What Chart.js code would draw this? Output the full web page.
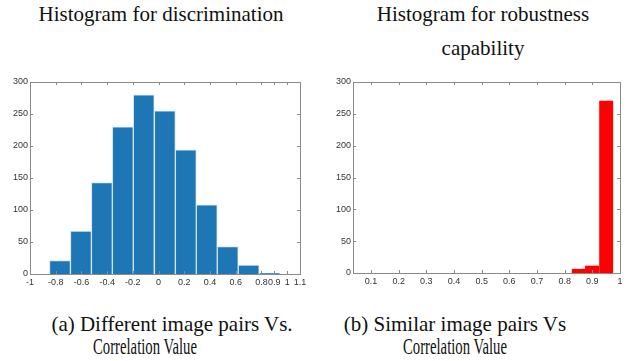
<!DOCTYPE html>
<html>
<head>
<meta charset="utf-8">
<script src="https://cdn.jsdelivr.net/npm/chart.js@4.4.1/dist/chart.umd.min.js"></script>
<style>
  body { margin: 0; background: #fff; }
  #page { position: relative; width: 633px; height: 361px; overflow: hidden;
          font-family: "Liberation Serif", "Times New Roman", serif; color: #111; }
  .txt { position: absolute; white-space: nowrap; font-size: 21px; line-height: 1; }
  .narrow { font-size: 23px; }
  #discWrap { position: absolute; left: 0; top: 70px; width: 316px; height: 230px; }
  #robWrap { position: absolute; left: 320px; top: 70px; width: 313px; height: 230px; }
</style>
</head>
<body>
<div id="page">
  <div class="txt" style="left:161px; top:4px; transform:translateX(-50%)">Histogram for discrimination</div>
  <div class="txt" style="left:483px; top:4px; transform:translateX(-50%)">Histogram for robustness</div>
  <div class="txt" style="left:483px; top:38px; transform:translateX(-50%)">capability</div>

  <div id="discWrap"><canvas id="discChart"></canvas></div>
  <div id="robWrap"><canvas id="robChart"></canvas></div>

  <div class="txt" style="left:172px; top:314px; transform:translateX(-50%)">(a) Different image pairs Vs.</div>
  <div class="txt narrow" style="left:145px; top:335px; transform:translateX(-50%) scaleX(0.64)">Correlation Value</div>
  <div class="txt" style="left:455px; top:314px; transform:translateX(-50%)">(b) Similar image pairs Vs</div>
  <div class="txt narrow" style="left:455px; top:335px; transform:translateX(-50%) scaleX(0.64)">Correlation Value</div>
</div>

<script>
// left histogram: different image pairs (bin centres + counts)
const discCenters = [-0.767, -0.604, -0.441, -0.278, -0.115, 0.049, 0.212, 0.375, 0.538, 0.701, 0.864];
const discCounts  = [21, 67, 143, 230, 280, 255, 194, 108, 43, 14, 1];
const discTicks   = [-1, -0.8, -0.6, -0.4, -0.2, 0, 0.2, 0.4, 0.6, 0.8, 0.9, 1, 1.1];

// right histogram: similar image pairs
const robCenters = [0.851, 0.899, 0.950];
const robCounts  = [6, 11, 270];
const robTicks   = [0.1, 0.2, 0.3, 0.4, 0.5, 0.6, 0.7, 0.8, 0.9, 1];

const countTicks = [0, 50, 100, 150, 200, 250, 300];

// matlab style box with inward tick marks
const boxTicks = {
  id: 'boxTicks',
  afterDraw(chart) {
    const { ctx, chartArea: a, scales: { x, y } } = chart;
    ctx.save();
    ctx.strokeStyle = '#8a8a8a';
    ctx.lineWidth = 1;
    ctx.strokeRect(Math.round(a.left) + 0.5, Math.round(a.top) + 0.5,
                   Math.round(a.width), Math.round(a.height));
    ctx.beginPath();
    x.ticks.forEach(t => {
      const px = Math.round(x.getPixelForValue(t.value)) + 0.5;
      ctx.moveTo(px, a.bottom); ctx.lineTo(px, a.bottom - 3);
      ctx.moveTo(px, a.top); ctx.lineTo(px, a.top + 3);
    });
    y.ticks.forEach(t => {
      const py = Math.round(y.getPixelForValue(t.value)) + 0.5;
      ctx.moveTo(a.left, py); ctx.lineTo(a.left + 3, py);
      ctx.moveTo(a.right, py); ctx.lineTo(a.right - 3, py);
    });
    ctx.stroke();
    ctx.restore();
  }
};

function histOptions(xmin, xmax, xticks, yWidth, xHeight, padRight) {
  return {
    responsive: true,
    maintainAspectRatio: false,
    animation: false,
    layout: { padding: { top: 12, right: padRight, left: 0, bottom: 0 } },
    plugins: { legend: { display: false }, tooltip: { enabled: false } },
    scales: {
      // hidden axis the bars sit on, no ticks so bar width = bin spacing
      bins: {
        type: 'linear',
        display: false,
        min: xmin,
        max: xmax,
        offset: false,
        afterBuildTicks: s => { s.ticks = []; }
      },
      x: {
        type: 'linear',
        min: xmin,
        max: xmax,
        offset: false,
        grid: { display: false, drawTicks: false },
        border: { display: false },
        afterBuildTicks: s => { s.ticks = xticks.map(v => ({ value: v })); },
        afterFit: s => { s.height = xHeight; },
        ticks: {
          autoSkip: false,
          maxRotation: 0,
          padding: 3,
          color: '#333',
          font: { family: 'Liberation Sans', size: 9 },
          callback: v => String(v)
        }
      },
      y: {
        min: 0,
        max: 300,
        grid: { display: false, drawTicks: false },
        border: { display: false },
        afterBuildTicks: s => { s.ticks = countTicks.map(v => ({ value: v })); },
        afterFit: s => { s.width = yWidth; },
        ticks: {
          padding: 2,
          color: '#333',
          font: { family: 'Liberation Sans', size: 9 }
        }
      }
    }
  };
}

new Chart(document.getElementById('discChart'), {
  type: 'bar',
  data: {
    datasets: [{
      xAxisID: 'bins',
      data: discCenters.map((c, i) => ({ x: c, y: discCounts[i] })),
      backgroundColor: '#1f76b4',
      borderColor: '#d4e6f5',
      borderWidth: 1,
      barPercentage: 1,
      categoryPercentage: 1
    }]
  },
  options: histOptions(-1, 1.1, discTicks, 30, 26, 16),
  plugins: [boxTicks]
});

new Chart(document.getElementById('robChart'), {
  type: 'bar',
  data: {
    datasets: [{
      xAxisID: 'bins',
      data: robCenters.map((c, i) => ({ x: c, y: robCounts[i] })),
      backgroundColor: '#ff0000',
      borderWidth: 0,
      barPercentage: 1,
      categoryPercentage: 1
    }]
  },
  options: histOptions(0.035, 1.0, robTicks, 33, 27, 13),
  plugins: [boxTicks]
});
</script>
</body>
</html>
